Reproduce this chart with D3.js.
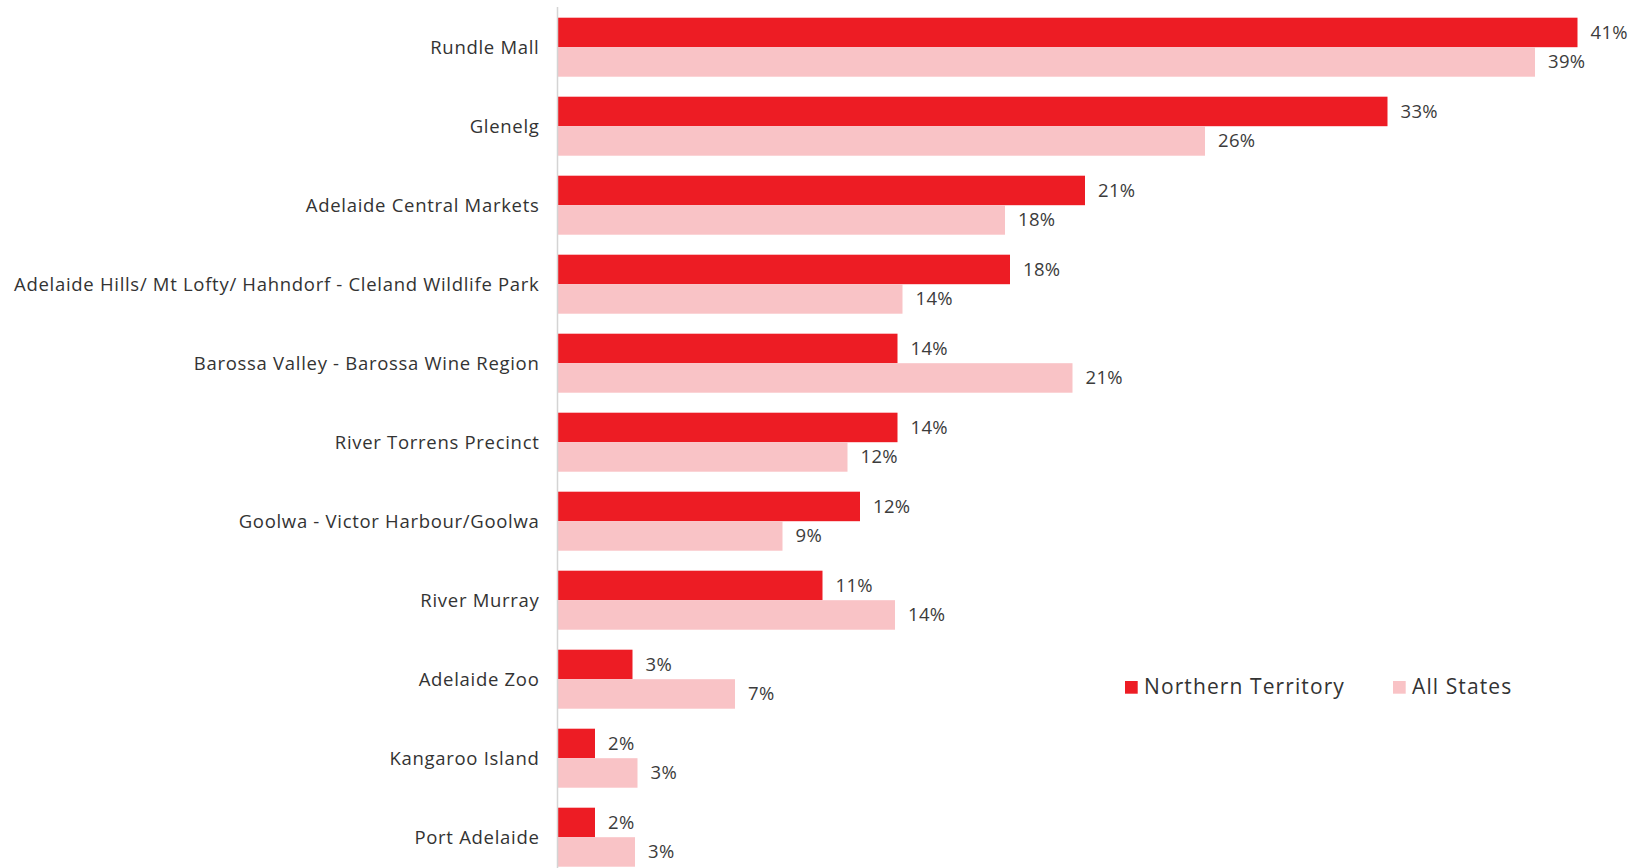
<!DOCTYPE html>
<html><head><meta charset="utf-8">
<script src="https://cdn.jsdelivr.net/npm/d3@7"></script>
<style>body{margin:0;background:#fff;}svg{display:block;}</style>
</head><body>
<svg id="chart" width="1637" height="868"></svg>
<script>
const categories = ["Rundle Mall","Glenelg","Adelaide Central Markets","Adelaide Hills/ Mt Lofty/ Hahndorf - Cleland Wildlife Park","Barossa Valley - Barossa Wine Region","River Torrens Precinct","Goolwa - Victor Harbour/Goolwa","River Murray","Adelaide Zoo","Kangaroo Island","Port Adelaide"];
const seriesNames = ["Northern Territory","All States"];
const northernTerritory = [40.8, 33.2, 21.1, 18.1, 13.6, 13.6, 12.1, 10.6, 3.0, 1.5, 1.5];
const allStates = [39.1, 25.9, 17.9, 13.8, 20.6, 11.6, 9.0, 13.5, 7.1, 3.2, 3.1];
const colors = ["#ED1C24", "#F9C3C6"];

const svg = d3.select("#chart");
const font = "'Open Sans', sans-serif";
const x0 = 557.5;
const x = d3.scaleLinear().domain([0, 41]).range([x0, x0 + 1025]);
const y = d3.scaleBand().domain(categories).range([7.7, 876.7]).paddingInner(0.253).paddingOuter(0.1265);
const ys = d3.scaleBand().domain(seriesNames).range([0, y.bandwidth()]);

const data = categories.map((c, i) => ({c, vals: [northernTerritory[i], allStates[i]]}));

const g = svg.append("g");
const groups = g.selectAll("g.grp").data(data).join("g").attr("transform", d => `translate(0,${y(d.c)})`);
groups.selectAll("rect").data(d => d.vals.map((v, k) => ({v, k}))).join("rect")
  .attr("x", x(0)).attr("y", d => ys(seriesNames[d.k]))
  .attr("width", d => x(d.v) - x(0)).attr("height", ys.bandwidth())
  .attr("fill", d => colors[d.k]);
groups.selectAll("text.val").data(d => d.vals.map((v, k) => ({v, k}))).join("text")
  .attr("class", "val")
  .attr("x", d => x(d.v) + 13).attr("y", d => ys(seriesNames[d.k]) + ys.bandwidth() / 2)
  .attr("dy", "0.35em").attr("font-family", font).attr("font-size", 18.5).attr("letter-spacing", 0.3)
  .attr("fill", "#3c3c3c")
  .text(d => Math.round(d.v) + "%");

// axis
const axis = d3.axisLeft(y).tickSize(0).tickPadding(18);
const ax = svg.append("g").attr("transform", `translate(${x0},0)`).call(axis);
ax.select(".domain").attr("stroke", "#d4d4d4").attr("stroke-width", 1.5).attr("d", "M0,7V868");
ax.selectAll(".tick text").attr("font-family", font).attr("font-size", 18.5).attr("letter-spacing", 0.7)
  .attr("fill", "#333").attr("dy", "0.35em");

// legend
const legX = [1125, 1393];
const leg = svg.append("g");
seriesNames.forEach((s, k) => {
  leg.append("rect").attr("x", legX[k]).attr("y", 681).attr("width", 12.7).attr("height", 12.7).attr("fill", colors[k]);
  leg.append("text").attr("x", legX[k] + 19).attr("y", 687).attr("dy", "0.35em")
    .attr("font-family", font).attr("font-size", 21).attr("letter-spacing", 1.1)
    .attr("fill", "#333").text(s);
});
</script>
</body></html>
